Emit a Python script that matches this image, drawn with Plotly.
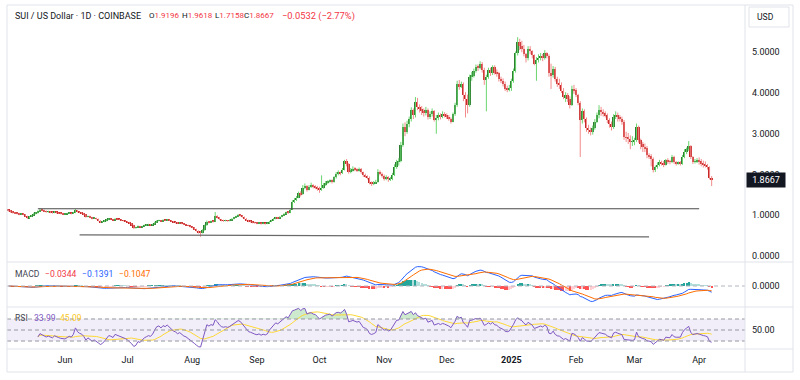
import numpy as np
import pandas as pd
import plotly.graph_objects as go

# ---------------- data ----------------
start_date = "2024-05-05"
first_open = 1.12

close = [
    # May 2024
    1.11, 1.08, 1.06, 1.05, 1.04, 1.02, 1.03, 1.02, 0.98, 0.93, 0.97, 1.00, 1.04, 1.06, 1.10, 1.14, 1.12, 1.10, 1.08, 1.09,
    1.07, 1.06, 1.08, 1.06, 1.05, 1.04, 1.03,
    # Jun
    1.03, 1.04, 1.05, 1.04, 1.06, 1.12, 1.08, 1.06, 1.05, 1.02, 0.96, 0.98, 0.95, 0.92, 0.93, 0.91, 0.87, 0.83, 0.84, 0.86,
    0.89, 0.91, 0.90, 0.88, 0.91, 0.90, 0.89, 0.87, 0.86, 0.85,
    # Jul
    0.83, 0.80, 0.76, 0.69, 0.70, 0.73, 0.71, 0.73, 0.75, 0.76, 0.77, 0.76, 0.78, 0.82, 0.86, 0.87, 0.85, 0.88, 0.87, 0.89,
    0.87, 0.85, 0.83, 0.82, 0.80, 0.81, 0.79, 0.77, 0.76, 0.74, 0.72,
    # Aug
    0.70, 0.66, 0.62, 0.58, 0.57, 0.63, 0.75, 0.84, 0.82, 0.85, 0.84, 0.98, 0.95, 0.90, 0.87, 0.86, 0.87, 0.86, 0.88, 0.91,
    0.94, 0.97, 1.00, 0.99, 0.96, 0.92, 0.88, 0.85, 0.84, 0.82, 0.81,
    # Sep
    0.80, 0.81, 0.79, 0.80, 0.79, 0.80, 0.84, 0.87, 0.91, 0.94, 0.93, 0.96, 0.99, 1.03, 1.07, 1.06, 1.14, 1.33, 1.38, 1.43,
    1.54, 1.51, 1.68, 1.72, 1.63, 1.70, 1.72, 1.70, 1.69, 1.66,
    # Oct
    1.62, 1.68, 1.74, 1.80, 1.82, 1.85, 1.82, 1.93, 2.02, 2.04, 2.03, 2.12, 2.34, 2.25, 2.07, 2.10, 2.14, 2.12, 2.10, 2.13,
    2.05, 1.98, 1.96, 1.92, 1.80, 1.77, 1.79, 1.82, 2.07, 2.02, 1.96,
    # Nov
    1.90, 1.94, 1.88, 1.90, 2.00, 2.18, 2.31, 2.32, 2.72, 3.17, 3.05, 3.25, 3.35, 3.58, 3.45, 3.78, 3.65, 3.60, 3.55, 3.50,
    3.58, 3.40, 3.48, 3.55, 3.33, 3.38, 3.45, 3.40, 3.48, 3.45,
    # Dec
    3.42, 3.37, 3.30, 3.48, 3.70, 4.23, 4.15, 4.23, 3.96, 3.86, 3.70, 4.40, 4.42, 4.55, 4.64, 4.62, 4.72, 4.56, 4.31, 4.40,
    4.56, 4.48, 4.64, 4.50, 4.48, 4.35, 4.30, 4.23, 4.11, 4.08, 4.12,
    # Jan 2025
    4.30, 4.55, 4.97, 5.25, 5.15, 5.09, 4.95, 4.85, 5.09, 5.02, 4.93, 4.72, 4.80, 4.85, 4.90, 4.85, 4.97, 4.90, 4.48, 4.44,
    4.60, 4.35, 4.23, 4.20, 4.05, 3.90, 3.94, 3.85, 3.70, 4.11, 4.07,
    # Feb
    3.95, 3.76, 3.33, 3.55, 3.35, 3.13, 3.08, 3.05, 3.15, 3.30, 3.46, 3.58, 3.54, 3.50, 3.46, 3.33, 3.25, 3.17, 3.42, 3.46,
    3.40, 3.37, 3.30, 2.92, 2.90, 2.88, 2.80, 2.82,
    # Mar
    2.84, 3.17, 2.84, 2.75, 2.68, 2.64, 2.48, 2.45, 2.39, 2.11, 2.18, 2.23, 2.31, 2.28, 2.23, 2.35, 2.33, 2.31, 2.43, 2.30,
    2.27, 2.28, 2.27, 2.43, 2.55, 2.62, 2.70, 2.42, 2.31, 2.33, 2.35,
    # Apr
    2.32, 2.27, 2.25, 2.23, 2.19, 1.9196, 1.8667,
]

high = [
    1.14, 1.13, 1.10, 1.08, 1.07, 1.06, 1.05, 1.05, 1.03, 0.99, 0.98, 1.01, 1.06, 1.08, 1.12, 1.17, 1.16, 1.14, 1.12, 1.11,
    1.10, 1.09, 1.10, 1.09, 1.07, 1.07, 1.06,
    1.05, 1.06, 1.07, 1.06, 1.08, 1.15, 1.13, 1.09, 1.08, 1.06, 1.03, 0.99, 0.99, 0.96, 0.95, 0.94, 0.92, 0.88, 0.86, 0.88,
    0.91, 0.93, 0.92, 0.91, 0.93, 0.92, 0.91, 0.90, 0.88, 0.87,
    0.86, 0.84, 0.81, 0.77, 0.72, 0.75, 0.74, 0.74, 0.77, 0.78, 0.79, 0.78, 0.79, 0.84, 0.88, 0.89, 0.88, 0.90, 0.89, 0.91,
    0.90, 0.88, 0.86, 0.84, 0.83, 0.83, 0.82, 0.80, 0.78, 0.77, 0.75,
    0.73, 0.71, 0.67, 0.63, 0.61, 0.66, 0.77, 0.87, 0.86, 0.87, 0.87, 1.08, 1.00, 0.96, 0.91, 0.89, 0.89, 0.88, 0.90, 0.93,
    0.96, 0.99, 1.03, 1.02, 1.00, 0.97, 0.93, 0.89, 0.87, 0.85, 0.84,
    0.83, 0.83, 0.82, 0.82, 0.81, 0.82, 0.86, 0.89, 0.93, 0.96, 0.96, 0.98, 1.01, 1.05, 1.09, 1.10, 1.16, 1.37, 1.42, 1.47,
    1.58, 1.59, 1.74, 1.78, 1.74, 1.74, 1.80, 1.76, 1.74, 1.72,
    1.70, 1.98, 1.79, 1.84, 1.86, 1.88, 1.88, 1.96, 2.06, 2.10, 2.07, 2.16, 2.36, 2.38, 2.28, 2.16, 2.20, 2.18, 2.15, 2.17,
    2.16, 2.07, 2.02, 1.98, 1.95, 1.83, 1.84, 1.87, 2.13, 2.10, 2.05,
    2.00, 1.98, 1.96, 1.94, 2.04, 2.25, 2.36, 2.40, 2.80, 3.25, 3.28, 3.32, 3.42, 3.65, 3.62, 3.90, 3.88, 3.72, 3.68, 3.62,
    3.66, 3.62, 3.55, 3.62, 3.58, 3.46, 3.52, 3.50, 3.55, 3.53,
    3.50, 3.46, 3.40, 3.52, 3.76, 4.30, 4.32, 4.28, 4.26, 4.02, 3.96, 4.45, 4.52, 4.60, 4.70, 4.70, 4.78, 4.76, 4.62, 4.45,
    4.62, 4.62, 4.68, 4.68, 4.58, 4.52, 4.40, 4.36, 4.28, 4.18, 4.20,
    4.35, 4.60, 5.02, 5.37, 5.33, 5.28, 5.18, 4.98, 5.15, 5.15, 5.05, 4.95, 4.88, 4.95, 4.98, 4.96, 5.05, 5.00, 4.95, 4.72,
    4.66, 4.64, 4.40, 4.35, 4.26, 4.12, 4.02, 4.00, 3.92, 4.18, 4.20,
    4.12, 3.98, 3.80, 3.62, 3.60, 3.40, 3.22, 3.15, 3.20, 3.36, 3.52, 3.70, 3.66, 3.60, 3.55, 3.50, 3.38, 3.30, 3.48, 3.55,
    3.52, 3.46, 3.42, 3.34, 3.05, 3.02, 2.96, 2.94,
    2.90, 3.25, 3.20, 2.88, 2.80, 2.76, 2.70, 2.52, 2.50, 2.42, 2.22, 2.30, 2.36, 2.34, 2.33, 2.38, 2.40, 2.36, 2.48, 2.46,
    2.33, 2.32, 2.33, 2.48, 2.62, 2.66, 2.82, 2.72, 2.45, 2.38, 2.40,
    2.42, 2.38, 2.34, 2.32, 2.26, 2.20, 1.9618,
]

low = [
    1.09, 1.06, 1.04, 1.03, 1.02, 1.00, 1.01, 1.00, 0.96, 0.91, 0.92, 0.96, 0.99, 1.02, 1.04, 1.08, 1.10, 1.08, 1.06, 1.06,
    1.05, 1.04, 1.05, 1.04, 1.03, 1.02, 1.01,
    1.01, 1.02, 1.03, 1.02, 1.03, 1.05, 1.07, 1.05, 1.03, 1.00, 0.94, 0.95, 0.93, 0.90, 0.91, 0.89, 0.85, 0.81, 0.82, 0.83,
    0.85, 0.88, 0.89, 0.87, 0.87, 0.89, 0.88, 0.86, 0.85, 0.84,
    0.82, 0.79, 0.75, 0.66, 0.67, 0.69, 0.70, 0.70, 0.72, 0.74, 0.75, 0.75, 0.75, 0.77, 0.81, 0.85, 0.84, 0.84, 0.86, 0.86,
    0.86, 0.84, 0.82, 0.80, 0.79, 0.79, 0.78, 0.76, 0.75, 0.73, 0.70,
    0.68, 0.64, 0.60, 0.55, 0.47, 0.55, 0.62, 0.74, 0.80, 0.81, 0.82, 0.83, 0.92, 0.88, 0.85, 0.84, 0.85, 0.84, 0.85, 0.87,
    0.90, 0.93, 0.96, 0.97, 0.94, 0.90, 0.86, 0.83, 0.82, 0.80, 0.79,
    0.78, 0.79, 0.77, 0.78, 0.77, 0.78, 0.79, 0.83, 0.86, 0.90, 0.91, 0.92, 0.95, 0.98, 1.02, 1.03, 1.05, 1.13, 1.30, 1.35,
    1.42, 1.46, 1.50, 1.64, 1.58, 1.61, 1.67, 1.66, 1.64, 1.60,
    1.55, 1.60, 1.65, 1.72, 1.77, 1.80, 1.78, 1.80, 1.90, 1.98, 1.98, 2.01, 2.10, 2.20, 2.02, 2.03, 2.07, 2.08, 2.06, 2.07,
    2.02, 1.94, 1.92, 1.88, 1.76, 1.72, 1.74, 1.77, 1.80, 1.98, 1.92,
    1.85, 1.86, 1.82, 1.84, 1.86, 1.96, 2.14, 2.22, 2.30, 2.68, 2.94, 3.00, 3.16, 3.30, 3.36, 3.40, 3.58, 3.52, 3.46, 3.42,
    3.45, 3.35, 3.36, 3.42, 3.30, 3.00, 3.33, 3.35, 3.38, 3.40,
    3.36, 3.32, 3.25, 3.28, 3.44, 3.66, 4.08, 4.12, 3.80, 3.40, 3.50, 3.66, 4.30, 4.38, 4.50, 4.54, 4.58, 4.50, 4.20, 3.55,
    4.35, 4.42, 4.44, 4.45, 4.40, 4.28, 4.24, 4.16, 4.05, 4.02, 4.04,
    4.05, 4.25, 4.50, 4.92, 5.05, 5.00, 4.90, 4.75, 4.80, 4.95, 4.85, 4.68, 4.30, 4.75, 4.80, 4.78, 4.82, 4.85, 4.40, 4.10,
    4.38, 4.28, 4.15, 4.10, 4.00, 3.85, 3.78, 3.78, 3.62, 3.68, 3.98,
    3.90, 3.70, 2.43, 3.25, 3.28, 3.05, 3.00, 2.96, 2.98, 3.10, 3.26, 3.38, 3.44, 3.42, 3.40, 3.26, 3.15, 3.08, 3.12, 3.36,
    3.30, 3.30, 3.22, 2.85, 2.80, 2.75, 2.62, 2.70,
    2.72, 2.80, 2.78, 2.62, 2.55, 2.55, 2.40, 2.38, 2.20, 2.05, 2.06, 2.14, 2.20, 2.22, 2.18, 2.22, 2.26, 2.25, 2.28, 2.26,
    2.22, 2.24, 2.22, 2.24, 2.40, 2.50, 2.58, 2.38, 2.26, 2.27, 2.28,
    2.24, 2.20, 2.17, 2.17, 2.12, 1.88, 1.7158,
]

price_ticks = [0, 1, 2, 3, 4, 5]
month_ticks = ["2024-06-01", "2024-07-01", "2024-08-01", "2024-09-01", "2024-10-01", "2024-11-01",
               "2024-12-01", "2025-01-01", "2025-02-01", "2025-03-01", "2025-04-01"]
month_labels = ["Jun", "Jul", "Aug", "Sep", "Oct", "Nov", "Dec", "<b>2025</b>", "Feb", "Mar", "Apr"]

resistance_x = ["2024-05-19", "2025-04-01"]
resistance_y = [1.16, 1.16]
support_x = ["2024-06-08", "2025-03-08"]
support_y = [0.52, 0.47]

header_title = "SUI / US Dollar · 1D · COINBASE"
ohlc_labels = ["O", "H", "L", "C"]
ohlc_values = ["1.9196", "1.9618", "1.7158", "1.8667"]
change_text = "−0.0532 (−2.77%)"
macd_values = ["−0.0344", "−0.1391", "−0.1047"]
rsi_values = ["33.99", "45.09"]
last_price = 1.8667

# ---------------- derived series ----------------
n = min(len(close), len(high), len(low))
c = np.array(close[:n], dtype=float)
h = np.array(high[:n], dtype=float)
l = np.array(low[:n], dtype=float)
o = np.concatenate([[first_open], c[:-1]])
h = np.maximum(h, np.maximum(o, c))
l = np.minimum(l, np.minimum(o, c))
dates = pd.date_range(start_date, periods=n, freq="D")
up = c >= o

s = pd.Series(c)
macd = s.ewm(span=12, adjust=False).mean() - s.ewm(span=26, adjust=False).mean()
signal = macd.ewm(span=9, adjust=False).mean()
hist = macd - signal

delta = s.diff()
gain = delta.clip(lower=0)
loss = -delta.clip(upper=0)
avg_gain = gain.ewm(alpha=1 / 14, adjust=False, min_periods=14).mean()
avg_loss = loss.ewm(alpha=1 / 14, adjust=False, min_periods=14).mean()
rsi = 100 - 100 / (1 + avg_gain / avg_loss)
rsi_ma = rsi.rolling(14, min_periods=1).mean()

# ---------------- layout geometry (pixels) ----------------
W, H = 800, 380
L, R, T, B = 7, 745, 5, 349
PW, PH = R - L, B - T
PX_PER_DAY = 2.086
X_JUN = 65


def xp(px):
    return (px - L) / PW


def yp(py):
    return (B - py) / PH


x_start = pd.Timestamp("2024-06-01") - pd.Timedelta(days=(X_JUN - L) / PX_PER_DAY)
x_end = x_start + pd.Timedelta(days=PW / PX_PER_DAY)

PX_PER_UNIT = 40.75
Y0 = 256
main_range = [(Y0 - 262) / PX_PER_UNIT, (Y0 - T) / PX_PER_UNIT]

GREEN_BODY, GREEN_WICK = "#2e7d32", "#6ad66e"
RED_BODY, RED_WICK = "#c62828", "#f28b8b"
FONT = "Roboto"
TXT = "#131722"
GRID = "#e0e3eb"

fig = go.Figure()


def wick_xy(mask):
    xs, ys = [], []
    for d, lo, hi in zip(dates[mask], l[mask], h[mask]):
        xs += [d, d, None]
        ys += [lo, hi, None]
    return xs, ys


for mask, col in [(up, GREEN_WICK), (~up, RED_WICK)]:
    xs, ys = wick_xy(mask)
    fig.add_trace(go.Scatter(x=xs, y=ys, mode="lines", line=dict(color=col, width=1),
                             hoverinfo="skip", xaxis="x", yaxis="y"))

body_base = np.minimum(o, c)
body_h = np.maximum(np.abs(c - o), 0.02)
day_ms = 86400000
for mask, col in [(up, GREEN_BODY), (~up, RED_BODY)]:
    fig.add_trace(go.Bar(x=dates[mask], y=body_h[mask], base=body_base[mask], width=0.85 * day_ms,
                         marker=dict(color=col, line=dict(width=0)), xaxis="x", yaxis="y",
                         hoverinfo="skip"))

# drawn support / resistance lines
fig.add_trace(go.Scatter(x=resistance_x, y=resistance_y, mode="lines", line=dict(color="#4a4a4a", width=1.2),
                         xaxis="x", yaxis="y", hoverinfo="skip"))
fig.add_trace(go.Scatter(x=support_x, y=support_y, mode="lines", line=dict(color="#6a6a6a", width=1.2),
                         xaxis="x", yaxis="y", hoverinfo="skip"))

# MACD pane
hprev = hist.shift(1)
hcol = np.where(hist >= 0, np.where(hist >= hprev, "#26a69a", "#b2dfdb"),
                np.where(hist < hprev, "#ff5252", "#ffcdd2"))
fig.add_trace(go.Bar(x=dates, y=hist, width=0.6 * day_ms, marker=dict(color=hcol, line=dict(width=0)),
                     xaxis="x", yaxis="y2", hoverinfo="skip"))
fig.add_trace(go.Scatter(x=dates, y=macd, mode="lines", line=dict(color="#2962ff", width=1),
                         xaxis="x", yaxis="y2", hoverinfo="skip"))
fig.add_trace(go.Scatter(x=dates, y=signal, mode="lines", line=dict(color="#ff6d00", width=1),
                         xaxis="x", yaxis="y2", hoverinfo="skip"))

macd_top = float(max(macd.max(), signal.max()))
k = macd_top / 19.5
macd_range = [-(307 - 286) * k, (286 - 262) * k]

# RSI pane
ob = np.where(rsi.notna(), np.maximum(rsi, 70), np.nan)
fig.add_trace(go.Scatter(x=dates, y=np.where(rsi.notna(), 70, np.nan), mode="lines", line=dict(width=0),
                         xaxis="x", yaxis="y3", hoverinfo="skip"))
fig.add_trace(go.Scatter(x=dates, y=ob, mode="lines", line=dict(width=0), fill="tonexty",
                         fillcolor="rgba(76,175,80,0.28)", xaxis="x", yaxis="y3", hoverinfo="skip"))
fig.add_trace(go.Scatter(x=dates, y=rsi_ma, mode="lines", line=dict(color="#fdd835", width=1),
                         xaxis="x", yaxis="y3", hoverinfo="skip"))
fig.add_trace(go.Scatter(x=dates, y=rsi, mode="lines", line=dict(color="#7e57c2", width=1),
                         xaxis="x", yaxis="y3", hoverinfo="skip"))

shapes = []
# RSI band and dashed levels
shapes.append(dict(type="rect", xref="paper", x0=0, x1=1, yref="y3", y0=30, y1=70,
                   fillcolor="rgba(126,87,194,0.10)", line=dict(width=0), layer="below"))
for lvl in [70, 50, 30]:
    shapes.append(dict(type="line", xref="paper", x0=0, x1=1, yref="y3", y0=lvl, y1=lvl,
                       line=dict(color="#9598a1", width=1, dash="4px,3px")))
shapes.append(dict(type="line", xref="paper", x0=0, x1=1, yref="y2", y0=0, y1=0,
                   line=dict(color="#b2b5be", width=1, dash="4px,3px")))
# frame and separators
shapes.append(dict(type="rect", xref="paper", yref="paper", x0=xp(7), x1=xp(793), y0=yp(372), y1=yp(5),
                   line=dict(color=GRID, width=1)))
shapes.append(dict(type="line", xref="paper", yref="paper", x0=xp(745), x1=xp(745), y0=yp(372), y1=yp(5),
                   line=dict(color=GRID, width=1)))
for py in [262, 307, 349]:
    shapes.append(dict(type="line", xref="paper", yref="paper", x0=xp(7), x1=xp(793), y0=yp(py), y1=yp(py),
                       line=dict(color=GRID, width=1)))
# USD button
shapes.append(dict(type="rect", xref="paper", yref="paper", x0=xp(749), x1=xp(789), y0=yp(27), y1=yp(7),
                   line=dict(color=GRID, width=1), fillcolor="white"))

ann = []


def text(px, py, t, size=8.6, color=TXT, xanchor="left"):
    ann.append(dict(xref="paper", yref="paper", x=xp(px), y=yp(py), text=t, showarrow=False,
                    xanchor=xanchor, yanchor="middle", font=dict(family=FONT, size=size, color=color)))


RED = "#f23645"
text(13, 15.5, header_title, size=9.0)
for px, lab, val in zip([146.5, 180, 212.5, 242], ohlc_labels, ohlc_values):
    text(px, 15.5, f"{lab}<span style='color:{RED}'>{val}</span>", size=8.0)
text(280, 15.5, change_text, color=RED, size=9.3)

text(13, 273.5, "MACD", color="#434651")
for px, val, col in zip([43, 80, 117], macd_values, [RED, "#2962ff", "#ff6d00"]):
    text(px, 273.5, val, color=col)

text(13, 318, "RSI", color="#434651")
for px, val, col in zip([32, 58], rsi_values, ["#7e57c2", "#f9c827"]):
    text(px, 318, val, color=col)

text(755, 17.5, "USD", size=8.6)

ann.append(dict(xref="paper", yref="y", x=xp(746), y=last_price, text=f"{last_price:.4f}",
                showarrow=False, xanchor="left", yanchor="middle", bgcolor="#131722",
                width=36, height=12, align="center", font=dict(family=FONT, size=9, color="white")))

axis_font = dict(family=FONT, size=9, color=TXT)
fig.update_layout(
    width=W, height=H,
    margin=dict(l=L, r=W - R, t=T, b=H - B),
    paper_bgcolor="white", plot_bgcolor="white",
    showlegend=False, hovermode=False, barmode="overlay", bargap=0,
    xaxis=dict(range=[x_start, x_end], anchor="y3", tickvals=month_ticks, ticktext=month_labels,
               showgrid=False, zeroline=False, showline=False, ticks="", ticklabelstandoff=4,
               tickfont=axis_font, fixedrange=True),
    yaxis=dict(domain=[yp(262), 1], range=main_range, side="right", anchor="x",
               tickvals=price_ticks, ticktext=[f"{v:.4f}" for v in price_ticks],
               showgrid=False, zeroline=False, showline=False, ticks="", ticklabelstandoff=6,
               tickfont=axis_font),
    yaxis2=dict(domain=[yp(307), yp(262)], range=macd_range, side="right", anchor="x",
                tickvals=[0], ticktext=["0.0000"], showgrid=False, zeroline=False, showline=False,
                ticks="", ticklabelstandoff=6, tickfont=axis_font),
    yaxis3=dict(domain=[0, yp(307)], range=[15.5, 91.8], side="right", anchor="x",
                tickvals=[50], ticktext=["50.00"], showgrid=False, zeroline=False, showline=False,
                ticks="", ticklabelstandoff=6, tickfont=axis_font),
    shapes=shapes, annotations=ann,
)

fig.write_html("out.html", config={"displayModeBar": False},
               post_script="document.body.style.margin='0';")
